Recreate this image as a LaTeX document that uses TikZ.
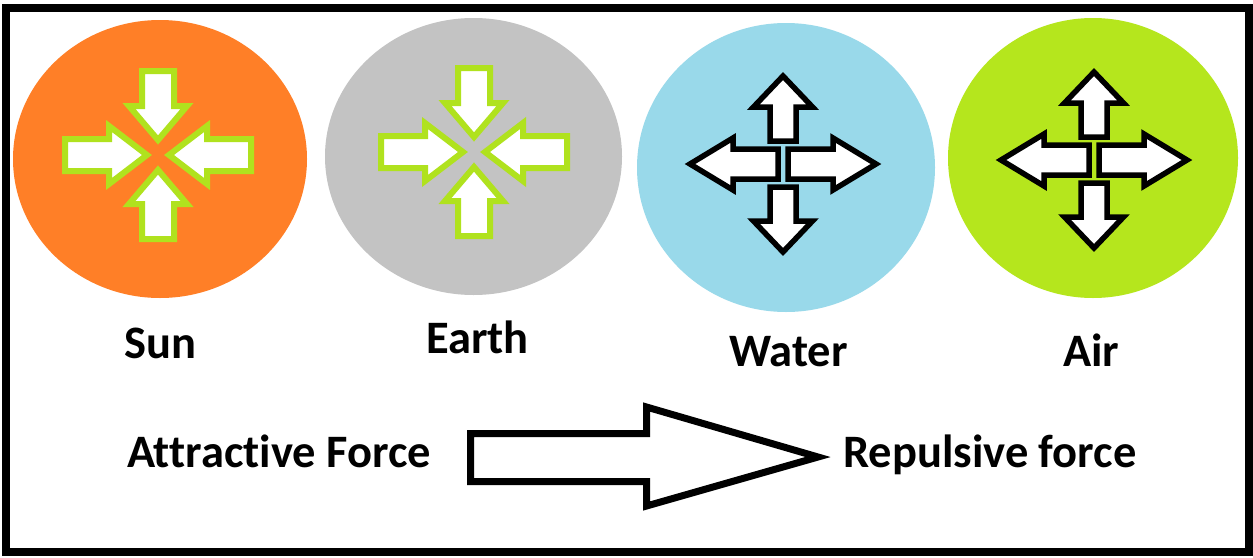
\documentclass[tikz,border=0pt]{standalone}
\usepackage{fontspec}
\setmainfont{Carlito}[Ligatures=NoCommon]
\usetikzlibrary{shapes.geometric}
\definecolor{sunc}{HTML}{FF7F27}
\definecolor{earthc}{HTML}{C3C3C3}
\definecolor{waterc}{HTML}{99D9EA}
\definecolor{airc}{HTML}{B5E61D}
\definecolor{limec}{HTML}{B0E21E}
\tikzset{
  ball/.style={ellipse, inner sep=0pt, draw=none},
  lbl/.style={font=\fontsize{46.5}{50}\selectfont\bfseries, inner sep=0pt, anchor=base west},
  attr/.style={draw=limec, line width=6pt, fill=white, line join=miter},
  repl/.style={draw=black, line width=5.5pt, fill=white, line join=miter},
  bigarrow/.style={draw=black, line width=7pt, fill=white, line join=miter},
}
\newcommand\myarrow[7]{%
  \draw[#1, rotate=#2] (#3,-#6) -- (#4,-#6) -- (#4,-#7) -- (#5,0) -- (#4,#7) -- (#4,#6) -- (#3,#6) -- cycle;}
\newcommand\attracticon{%
  \myarrow{attr}{0}{93}{49}{11}{16}{29}
  \myarrow{attr}{180}{93}{49}{11}{16}{29}
  \myarrow{attr}{90}{84}{49}{15}{16}{29}
  \myarrow{attr}{270}{84}{49}{15}{16}{29}}
\newcommand\repelicon{%
  \myarrow{repl}{90}{23}{57}{88}{13}{29.5}
  \myarrow{repl}{270}{23}{57}{88}{13}{29.5}
  \myarrow{repl}{0}{5}{50}{93}{15}{26}
  \myarrow{repl}{180}{5}{50}{93}{15}{26}}
\begin{document}
\begin{tikzpicture}[x=1pt,y=-1pt]
\useasboundingbox (0,0) rectangle (1253,557);
\fill[white] (0,0) rectangle (1253,557);
\draw[line width=8pt] (6,7.5) rectangle (1249,552);

\node[ball, fill=sunc, minimum width=294pt, minimum height=278pt] (sun) at (160,159) {};
\node[ball, fill=earthc, minimum width=297pt, minimum height=277pt] (earth) at (473.5,156.5) {};
\node[ball, fill=waterc, minimum width=298pt, minimum height=289pt] (water) at (786,167.5) {};
\node[ball, fill=airc, minimum width=290pt, minimum height=280pt] (air) at (1093,158) {};

\begin{scope}[shift={(158,155)}] \attracticon \end{scope}
\begin{scope}[shift={(474,152)}] \attracticon \end{scope}
\begin{scope}[shift={(783,164)}] \repelicon \end{scope}
\begin{scope}[shift={(1094,160)}] \repelicon \end{scope}

\node[lbl] (sunlbl) at (124,358) {Sun};
\node[lbl] (earthlbl) at (426,353) {Earth};
\node[lbl] (waterlbl) at (729,366) {Water};
\node[lbl] (airlbl) at (1063,366) {Air};
\node[lbl] (attlbl) at (127,467) {Attractive Force};
\node[lbl] (replbl) at (843,467) {Repulsive force};

\draw[bigarrow] (470.5,433.5) -- (646.5,433.5) -- (646.5,407) -- (818,457)
  -- (646.5,506) -- (646.5,481.5) -- (470.5,481.5) -- cycle;
\end{tikzpicture}
\end{document}
